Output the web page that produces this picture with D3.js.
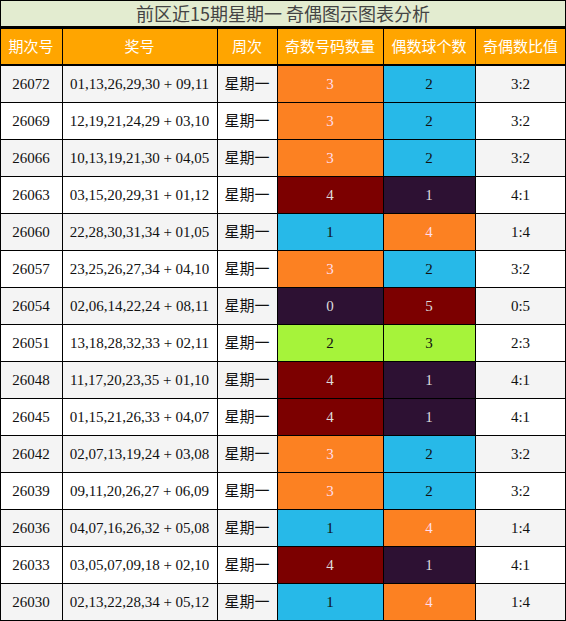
<!DOCTYPE html><html><head><meta charset="utf-8"><script src="https://cdn.jsdelivr.net/npm/d3@7"></script>
<style>body{margin:0;background:#fff}</style></head><body><svg id="c" width="566" height="621"></svg>
<script>
const title="前区近15期星期一 奇偶图示图表分析";
const headers=["期次号","奖号","周次","奇数号码数量","偶数球个数","奇偶数比值"];
const issues=["26072","26069","26066","26063","26060","26057","26054","26051","26048","26045","26042","26039","26036","26033","26030"];
const draws=["01,13,26,29,30 + 09,11","12,19,21,24,29 + 03,10","10,13,19,21,30 + 04,05","03,15,20,29,31 + 01,12","22,28,30,31,34 + 01,05","23,25,26,27,34 + 04,10","02,06,14,22,24 + 08,11","13,18,28,32,33 + 02,11","11,17,20,23,35 + 01,10","01,15,21,26,33 + 04,07","02,07,13,19,24 + 03,08","09,11,20,26,27 + 06,09","04,07,16,26,32 + 05,08","03,05,07,09,18 + 02,10","02,13,22,28,34 + 05,12"];
const weekday="星期一";
const odd=[3,3,3,4,1,3,0,2,4,4,3,3,1,4,1];
const even=odd.map(o=>5-o);
const colEdges=[0,62,217,277,383,475,566];
const svg=d3.select("#c");
const x=d3.scaleOrdinal().domain(d3.range(6)).range(colEdges.slice(0,6));
const w=i=>colEdges[i+1]-colEdges[i];
const y=d3.scaleBand().domain(d3.range(15)).range([65,620]);
const OR="#fc8122",BL="#27b9e8",RD="#7c0000",PU="#2d1133",GR="#a6f33a";
const cfOdd={0:PU,1:BL,2:GR,3:OR,4:RD,5:RD};
const cfEven={0:PU,1:PU,2:BL,3:GR,4:OR,5:RD};
const tcol=c=>(c==BL||c==GR)?"#111":(c==OR?"#fde":"#ddd");
const cn="'Noto Sans CJK SC',sans-serif", sf="'Liberation Serif',serif";
svg.append("rect").attr("width",566).attr("height",621).attr("fill","#000");
svg.append("rect").attr("x",1).attr("y",1).attr("width",564).attr("height",25).attr("fill","#e3ecd0");
svg.append("text").attr("x",283).attr("y",21).attr("text-anchor","middle").attr("font-family",cn).attr("font-size",18).attr("fill","#444").text(title);
headers.forEach((h,i)=>{svg.append("rect").attr("x",x(i)+1).attr("y",29).attr("width",w(i)-(i==5?2:1)).attr("height",35).attr("fill","#ffa500");
svg.append("text").attr("x",x(i)+w(i)/2).attr("y",52).attr("text-anchor","middle").attr("font-family",cn).attr("font-size",15).attr("fill","#fff").text(h);});
issues.forEach((iss,r)=>{
 const bg=r%2?"#fff":"#f4f4f4";
 const vals=[iss,draws[r],weekday,odd[r],even[r],odd[r]+":"+even[r]];
 vals.forEach((v,i)=>{
  let fill=bg,tc="#111";
  if(i==3){fill=cfOdd[odd[r]];tc=tcol(fill);}
  if(i==4){fill=cfEven[even[r]];tc=tcol(fill);}
  svg.append("rect").attr("x",x(i)+1).attr("y",y(r)+1).attr("width",w(i)-(i==5?2:1)).attr("height",y.bandwidth()-1).attr("fill",fill);
  svg.append("text").attr("x",x(i)+w(i)/2).attr("y",y(r)+y.bandwidth()/2+5).attr("text-anchor","middle").attr("font-family",i==2?cn:sf).attr("font-size",15).attr("fill",tc).text(v);
 });
});
</script></body></html>
